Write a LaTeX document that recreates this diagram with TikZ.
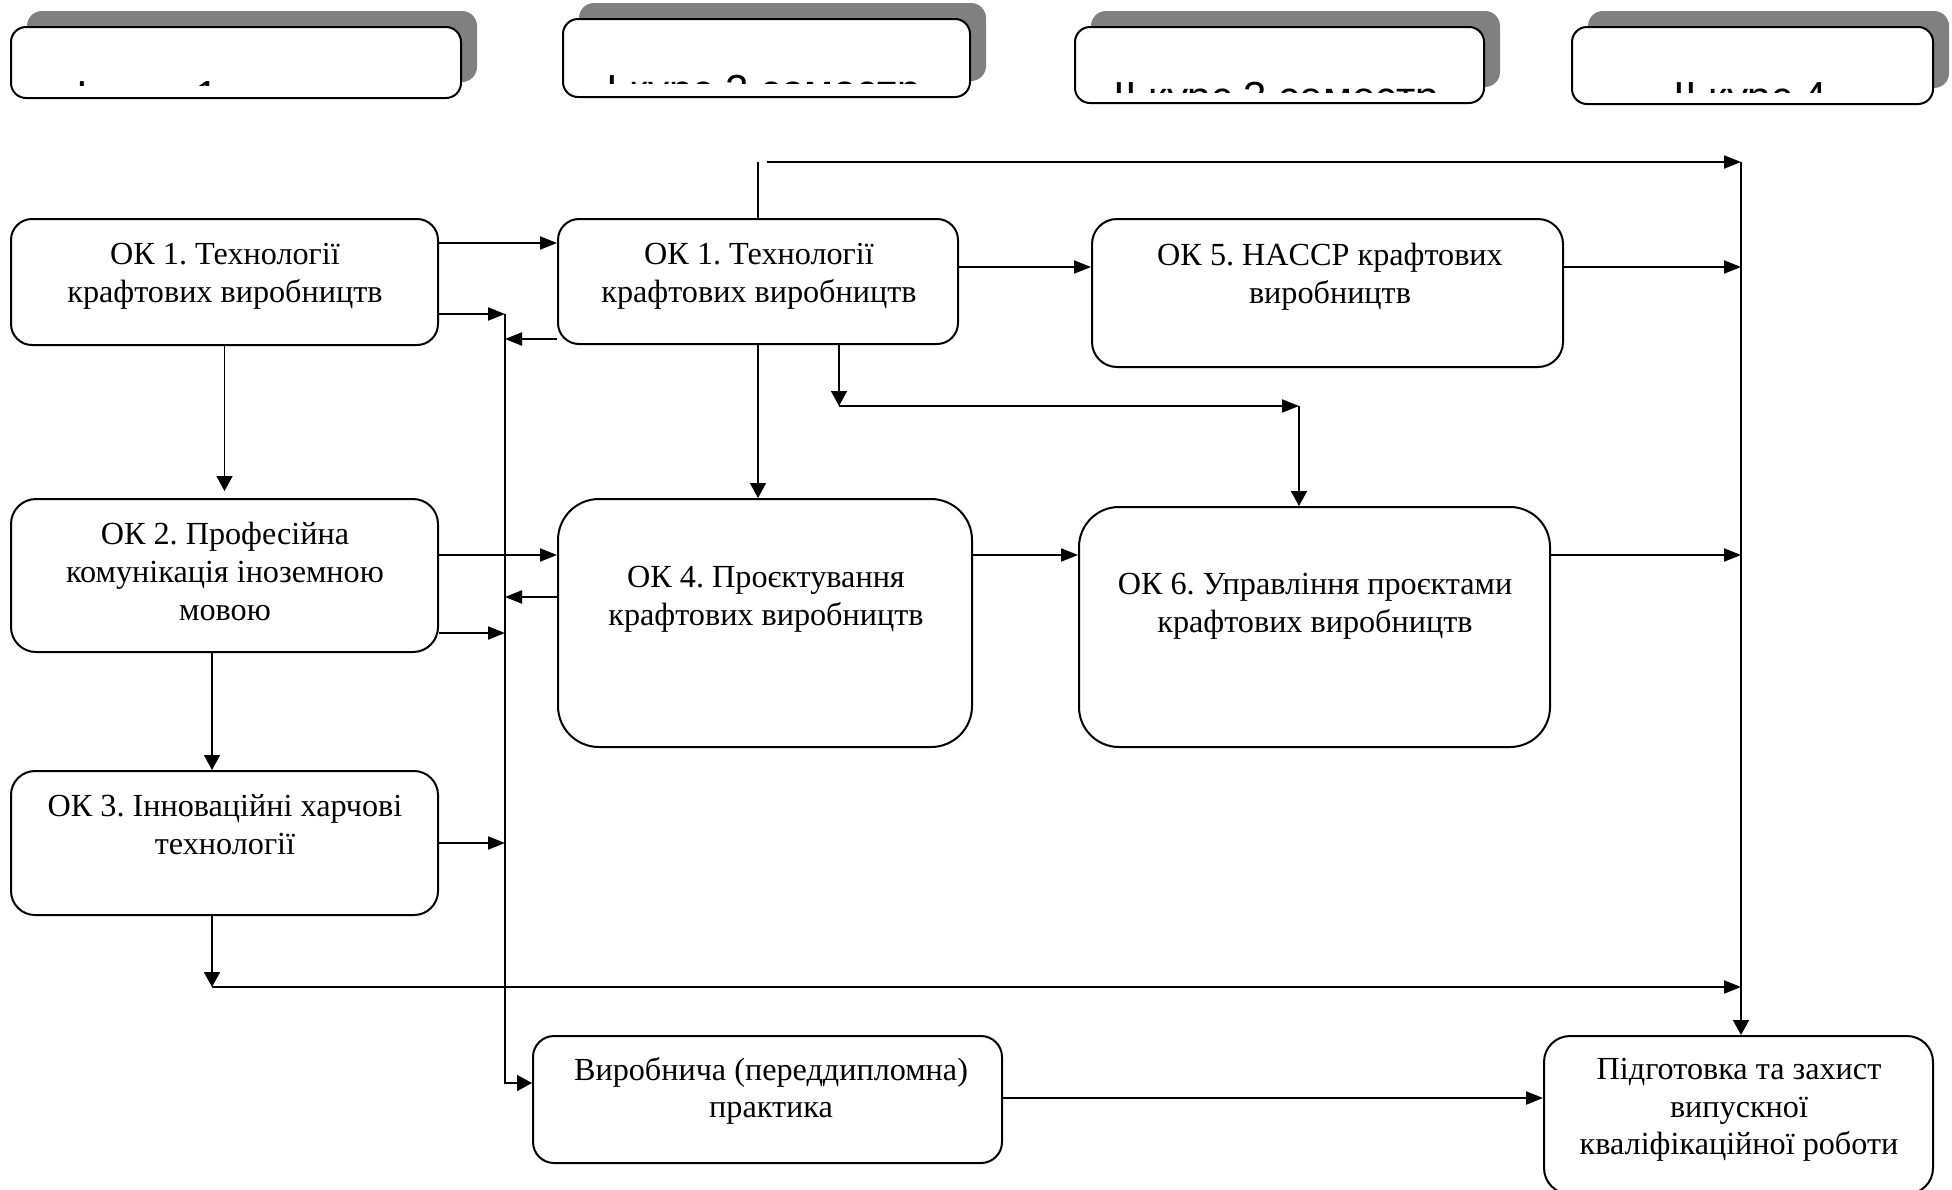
\documentclass[tikz,border=0pt]{standalone}
\usepackage{fontspec}
\setmainfont{Liberation Serif}
\newfontfamily\semfont{Liberation Sans}
\usepackage{tikz}
\usetikzlibrary{arrows.meta,shadows}
\frenchspacing

\begin{document}
\begin{tikzpicture}[
    x=0.5pt, y=-0.5pt,
    course/.style={rectangle, draw=black, line width=1pt, fill=white, rounded corners=7.5pt, drop shadow={shadow xshift=8pt, shadow yshift=8pt, fill=black!50, opacity=1}},
    semtext/.style={font=\semfont\fontsize{21}{25}\selectfont, inner sep=0pt, anchor=base west},
    discipline/.style={rectangle, draw=black, line width=1pt, fill=white},
    disctext/.style={font=\fontsize{16.1}{18.8}\selectfont, align=center, inner sep=0pt},
    harrow/.style={-{Triangle[length=8.5pt,width=6.5pt]}, line width=1pt},
    varrow/.style={-{Triangle[length=7.5pt,width=8pt]}, line width=0.8pt},
    vline/.style={line width=0.8pt}
]
\useasboundingbox (0,0) rectangle (1952,1189);

% Course headers
\node[course, minimum width=225pt, minimum height=35.5pt] (sem1) at (236,62.5) {};
\node[course, minimum width=203.5pt, minimum height=39pt] (sem2) at (766.5,58) {};
\node[course, minimum width=204.5pt, minimum height=38pt] (sem3) at (1279.5,65) {};
\node[course, minimum width=180.5pt, minimum height=38.5pt] (sem4) at (1752.5,65.5) {};

\begin{scope}
\clip (sem1.north west) rectangle (sem1.east |- 0,85);
\node[semtext] (sem1t) at (76,110) {І курс 1 семестр};
\end{scope}
\begin{scope}
\clip (sem2.north west) rectangle (sem2.east |- 0,83);
\node[semtext] (sem2t) at (606,104) {І курс 2 семестр};
\end{scope}
\begin{scope}
\clip (sem3.north west) rectangle (sem3.east |- 0,92);
\node[semtext] (sem3t) at (1113,111) {ІІ курс 3 семестр};
\end{scope}
\begin{scope}
\clip (sem4.north west) rectangle (sem4.east |- 0,92);
\node[semtext] (sem4t) at (1673,111) {\begin{tabular}[t]{@{}l@{}}ІІ курс 4\\семестр\end{tabular}};
\end{scope}

% First column
\node[discipline, minimum width=213.5pt, minimum height=63pt, rounded corners=10.5pt] (ok1a) at (224.5,282) {};
\node[disctext] (ok1at) at (225,276.5) {ОК 1. Технології\\крафтових виробництв};
\node[discipline, minimum width=213.5pt, minimum height=76.5pt, rounded corners=12.5pt] (ok2) at (224.5,575.5) {};
\node[disctext] (ok2t) at (225,571.5) {ОК 2. Професійна\\комунікація іноземною\\мовою};
\node[discipline, minimum width=213.5pt, minimum height=72pt, rounded corners=12pt] (ok3) at (224.5,843) {};
\node[disctext] (ok3t) at (225,824.5) {ОК 3. Інноваційні харчові\\технології};

% Second column
\node[discipline, minimum width=200pt, minimum height=62.5pt, rounded corners=10.5pt] (ok1b) at (758,281.5) {};
\node[disctext] (ok1bt) at (759,276.5) {ОК 1. Технології\\крафтових виробництв};
\node[discipline, minimum width=207pt, minimum height=124pt, rounded corners=20.5pt] (ok4) at (765,623) {};
\node[disctext] (ok4t) at (766,599.5) {ОК 4. Проєктування\\крафтових виробництв};
\node[discipline, minimum width=234.5pt, minimum height=63.5pt, rounded corners=10.5pt] (prakt) at (767.5,1099.5) {};
\node[disctext] (praktt) at (771,1091) {Виробнича (переддипломна)\\практика};

% Third column
\node[discipline, minimum width=235.5pt, minimum height=74pt, rounded corners=12.5pt] (ok5) at (1327.5,293) {};
\node[disctext] (ok5t) at (1330,276.5) {ОК 5. HACCP крафтових\\виробництв};
\node[discipline, minimum width=235.5pt, minimum height=120pt, rounded corners=20pt] (ok6) at (1314.5,627) {};
\node[disctext] (ok6t) at (1315,606.5) {ОК 6. Управління проєктами\\крафтових виробництв};

% Final attestation
\node[discipline, minimum width=194.5pt, minimum height=79pt, rounded corners=13pt] (vkr) at (1738.5,1115) {};
\node[disctext] (vkrt) at (1739,1110) {Підготовка та захист\\випускної\\кваліфікаційної роботи};

% Bus points
\coordinate (busT) at (505,314);
\coordinate (busB) at (505,1083);
\coordinate (rbusT) at (1741,162);
\coordinate (topL) at (767,162);
\coordinate (k1) at (839,406);
\coordinate (k2) at (1299,406);
\coordinate (k3) at (212,987);

% Arrows to the left bus
\draw[harrow] (ok1a.east |- 0,243) -- (ok1b.west |- 0,243);
\draw[harrow] (ok1a.east |- busT) -- (busT);
\draw[harrow] (ok1b.west |- 0,339) -- (busT |- 0,339);
\draw[harrow] (ok2.east |- 0,555) -- (ok4.west |- 0,555);
\draw[harrow] (ok4.west |- 0,597) -- (busT |- 0,597);
\draw[harrow] (ok2.east |- 0,633) -- (busT |- 0,633);
\draw[harrow] (ok3.east |- 0,843) -- (busT |- 0,843);
\draw[varrow] (busT) -- (busB) -- (prakt.west |- busB);

% First column downwards
\draw[varrow, shorten >=3.5pt] (ok1a.south) -- (ok2.north);
\draw[varrow] (ok2.south -| k3) -- (ok3.north -| k3);
\draw[varrow] (ok3.south -| k3) -- (k3);
\draw[harrow] (k3) -- (k3 -| rbusT);

% Second and third columns
\draw[vline] (ok1b.north) -- (ok1b.north |- rbusT);
\draw[harrow] (topL) -- (rbusT);
\draw[harrow] (ok1b.east |- 0,267) -- (ok5.west |- 0,267);
\draw[harrow] (ok5.east |- 0,267) -- (rbusT |- 0,267);
\draw[varrow] (ok1b.south) -- (ok1b.south |- ok4.north);
\draw[varrow] (ok1b.south -| k1) -- (k1);
\draw[harrow] (k1) -- (k2);
\draw[varrow] (k2) -- (k2 |- ok6.north);
\draw[harrow] (ok4.east |- 0,555) -- (ok6.west |- 0,555);
\draw[harrow] (ok6.east |- 0,555) -- (rbusT |- 0,555);

% Right bus
\draw[varrow] (rbusT) -- (rbusT |- vkr.north);
\draw[harrow] (prakt.east |- 0,1098) -- (vkr.west |- 0,1098);

\end{tikzpicture}
\end{document}
